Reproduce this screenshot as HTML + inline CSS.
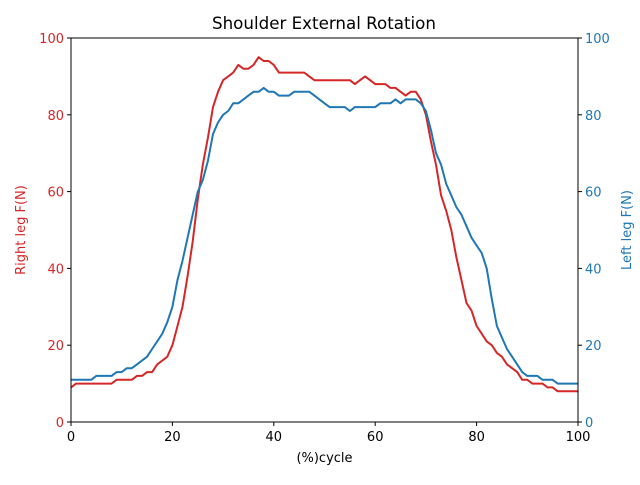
<!DOCTYPE html>
<html><head><meta charset="utf-8"><style>
body{margin:0;background:#fff}
svg text{font-family:"DejaVu Sans","Liberation Sans",sans-serif}
</style></head><body>
<svg id="chart" width="640" height="480" xmlns="http://www.w3.org/2000/svg">
<rect width="640" height="480" fill="#fff"/>
<text x="324" y="29" font-size="16.7" text-anchor="middle">Shoulder External Rotation</text>
<g id="plot"></g>
</svg>
<script>
const xValues=[0,1,2,3,4,5,6,7,8,9,10,11,12,13,14,15,16,17,18,19,20,21,22,23,24,25,26,27,28,29,30,31,32,33,34,35,36,37,38,39,40,41,42,43,44,45,46,47,48,49,50,51,52,53,54,55,56,57,58,59,60,61,62,63,64,65,66,67,68,69,70,71,72,73,74,75,76,77,78,79,80,81,82,83,84,85,86,87,88,89,90,91,92,93,94,95,96,97,98,99,100];
const rightLeg=[9,10,10,10,10,10,10,10,10,11,11,11,11,12,12,13,13,15,16,17,20,25,30,38,47,58,67,74,82,86,89,90,91,93,92,92,93,95,94,94,93,91,91,91,91,91,91,90,89,89,89,89,89,89,89,89,88,89,90,89,88,88,88,87,87,86,85,86,86,84,80,73,67,59,55,50,43,37,31,29,25,23,21,20,18,17,15,14,13,11,11,10,10,10,9,9,8,8,8,8,8];
const leftLeg=[11,11,11,11,11,12,12,12,12,13,13,14,14,15,16,17,19,21,23,26,30,37,42,48,54,60,63,68,75,78,80,81,83,83,84,85,86,86,87,86,86,85,85,85,86,86,86,86,85,84,83,82,82,82,82,81,82,82,82,82,82,83,83,83,84,83,84,84,84,83,81,76,70,67,62,59,56,54,51,48,46,44,40,32,25,22,19,17,15,13,12,12,12,11,11,11,10,10,10,10,10];
const xTicks=[0,20,40,60,80,100];
const yTicks=[0,20,40,60,80,100];
const L=71,R=578,T=38,B=422;
const sx=v=>L+(v-0)/(100-0)*(R-L);
const sy=v=>B-(v-0)/(100-0)*(B-T);
const NS="http://www.w3.org/2000/svg";
const g=document.getElementById('plot');
function mk(tag,attrs){const e=document.createElementNS(NS,tag);for(const k in attrs)e.setAttribute(k,attrs[k]);g.appendChild(e);return e;}
function series(vals,color,name){
  const d=vals.map((v,i)=>(i?'L':'M')+sx(xValues[i]).toFixed(1)+','+sy(v).toFixed(1)).join('');
  const p=mk('path',{d:d,fill:'none',stroke:color,'stroke-width':2,'stroke-linejoin':'round'});
  
  
}
series(rightLeg,'#d62728','right-leg-line');
series(leftLeg,'#1f77b4','left-leg-line');
const frame=mk('rect',{x:L,y:T,width:R-L,height:B-T,fill:'none',stroke:'#000','stroke-width':1});


const FS=13;
xTicks.forEach(t=>{
  mk('line',{x1:sx(t),x2:sx(t),y1:B,y2:B+4,stroke:'#000'});
  const tx=mk('text',{x:sx(t),y:B+19,'font-size':FS,'text-anchor':'middle'});
  tx.textContent=t;
  
  
});
yTicks.forEach(t=>{
  mk('line',{x1:L-4,x2:L,y1:sy(t),y2:sy(t),stroke:'#000'});
  const a=mk('text',{x:L-7,y:sy(t)+5,'font-size':FS,'text-anchor':'end',fill:'#d62728'});
  a.textContent=t;
  
  
  mk('line',{x1:R,x2:R+4,y1:sy(t),y2:sy(t),stroke:'#000'});
  const b=mk('text',{x:R+7,y:sy(t)+5,'font-size':FS,'text-anchor':'start',fill:'#1f77b4'});
  b.textContent=t;
  
  
});
const xl=mk('text',{x:(L+R)/2,y:462,'font-size':FS,'text-anchor':'middle'});xl.textContent='(%)cycle';


const yl=mk('text',{x:0,y:0,'font-size':FS,'text-anchor':'middle',fill:'#d62728',transform:'translate(25,230) rotate(-90)'});yl.textContent='Right leg F(N)';


const yr=mk('text',{x:0,y:0,'font-size':FS,'text-anchor':'middle',fill:'#1f77b4',transform:'translate(631,230) rotate(-90)'});yr.textContent='Left leg F(N)';


</script>
</body></html>
